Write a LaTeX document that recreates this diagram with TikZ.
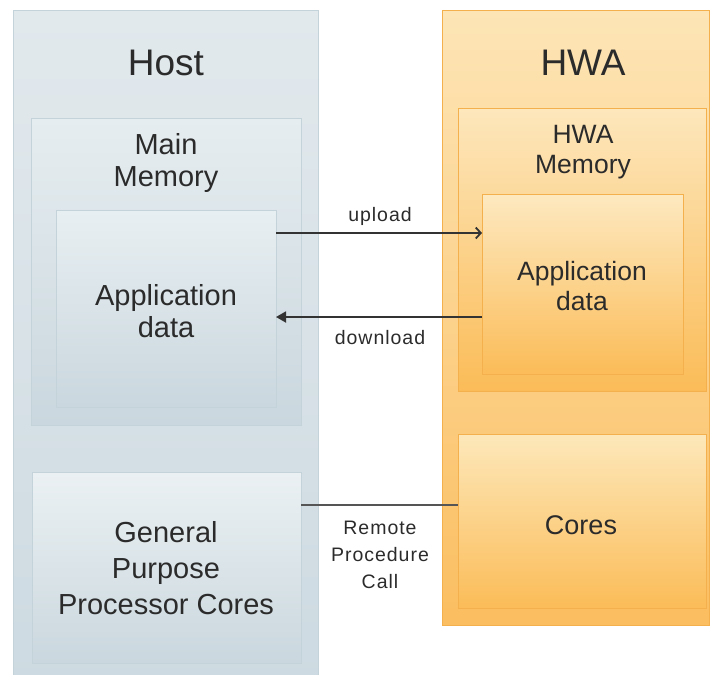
\documentclass[tikz,border=0pt]{standalone}
\usepackage{fontspec}
\setmainfont{Liberation Sans}
\usetikzlibrary{arrows.meta}
\definecolor{textc}{HTML}{2B2B2B}
\definecolor{hline}{HTML}{C4D2D9}
\definecolor{wline}{HTML}{F3B04C}
\definecolor{htop}{HTML}{E6EDF0}
\definecolor{hbot}{HTML}{CAD7DE}
\definecolor{wtop}{HTML}{FDE7BC}
\definecolor{wbot}{HTML}{FBBC58}
\definecolor{hotop}{HTML}{E2E9ED}
\definecolor{hobot}{HTML}{CDDAE1}
\definecolor{wotop}{HTML}{FDE5B6}
\definecolor{wobot}{HTML}{FBBE60}
\definecolor{happtop}{HTML}{E8EFF2}
\definecolor{gpptop}{HTML}{EBF1F3}
\definecolor{wapptop}{HTML}{FDE9C0}
\definecolor{corestop}{HTML}{FDE8BA}
\definecolor{conline}{HTML}{333333}
\definecolor{rpcline}{HTML}{555555}
\begin{document}
\begin{tikzpicture}[x=1pt,y=-1pt,
  hbox/.style={draw=hline, line width=1pt, top color=htop, bottom color=hbot, anchor=north west, inner sep=0pt, outer sep=0pt},
  wbox/.style={draw=wline, line width=1pt, top color=wtop, bottom color=wbot, anchor=north west, inner sep=0pt, outer sep=0pt},
  title/.style={font=\fontsize{37}{40}\selectfont, text=textc, align=center},
  hlab/.style={font=\fontsize{29}{32}\selectfont, text=textc, align=center},
  wlab/.style={font=\fontsize{26.5}{30}\selectfont, text=textc, align=center},
  small/.style={font=\fontsize{19.5}{27}\selectfont\addfontfeature{LetterSpace=5}, text=textc, align=center},
  conn/.style={draw=conline, line width=1.8pt}
]
\useasboundingbox (0,0) rectangle (710,675);
% outer containers
\node[hbox, top color=hotop, bottom color=hobot, minimum width=305pt, minimum height=680pt] (host) at (13,10) {};
\node[wbox, top color=wotop, bottom color=wobot, minimum width=267pt, minimum height=615pt] (hwa) at (442,10) {};
% host boxes
\node[hbox, minimum width=270pt, minimum height=307pt] (mainmem) at (31,118) {};
\node[hbox, top color=happtop, minimum width=220pt, minimum height=197pt] (happ) at (56,210) {};
\node[hbox, top color=gpptop, minimum width=269pt, minimum height=191pt] (gpp) at (32,472) {};
% hwa boxes
\node[wbox, minimum width=248pt, minimum height=283pt] (hwamem) at (458,108) {};
\node[wbox, top color=wapptop, minimum width=201pt, minimum height=180pt] (wapp) at (482,194) {};
\node[wbox, top color=corestop, minimum width=248pt, minimum height=174pt] (wcores) at (458,434) {};
% texts
\node[title] (hosttitle) at (166,63) {Host};
\node[title] (hwatitle) at (583,63) {HWA};
\node[hlab] (mmtxt) at (166,163) {Main\\Memory};
\node[hlab] (happtxt) at (166,311) {Application\\data};
\node[hlab, font=\fontsize{29}{36}\selectfont] (gpptxt) at (166,568) {General\\Purpose\\Processor Cores};
\node[wlab] (hmtxt) at (583,152) {HWA\\Memory};
\node[wlab] (wapptxt) at (582,286) {Application\\data};
\node[wlab, font=\fontsize{27}{30}\selectfont] (corestxt) at (581,525) {Cores};
% connectors
\coordinate (upy) at (0,233);
\coordinate (dny) at (0,317);
\coordinate (rpcy) at (0,505);
\draw[conn, -{Straight Barb[length=5pt,width=11pt,line width=1.8pt]}] (happ.east |- upy) -- (wapp.west |- upy);
\draw[conn, -{Triangle[length=10pt,width=11pt]}] (wapp.west |- dny) -- (happ.east |- dny);
\draw[conn, draw=rpcline, line width=2pt] (gpp.east |- rpcy) -- (wcores.west |- rpcy);
\node[small] (uplbl) at (380,216) {upload};
\node[small] (dnlbl) at (380,338) {download};
\node[small] (rpclbl) at (380,555) {Remote\\Procedure\\Call};
\end{tikzpicture}
\end{document}
